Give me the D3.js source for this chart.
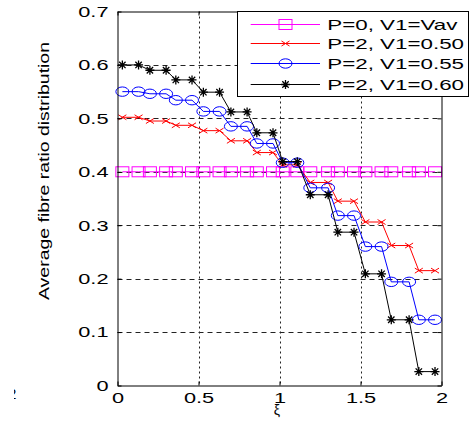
<!doctype html>
<html>
<head>
<meta charset="utf-8">
<script src="https://d3js.org/d3.v7.min.js"></script>
<style>
    body { margin: 0; background: #fff; }
    text { font-family: "Liberation Sans", Arial, sans-serif; fill: #000; }
</style>
</head>
<body>
<svg width="469" height="429" id="chart"></svg>
<script>
    // sample positions along xi (same for every curve)
    var xVals = [0.03, 0.13, 0.2, 0.3, 0.36, 0.46, 0.53, 0.63, 0.7, 0.8, 0.86, 0.96,
                 1.02, 1.11, 1.19, 1.3, 1.36, 1.46, 1.53, 1.63, 1.69, 1.8, 1.86, 1.96];

    // curves
    var magentaY = [0.4, 0.4, 0.4, 0.4, 0.4, 0.4, 0.4, 0.4, 0.4, 0.4, 0.4, 0.4,
                    0.4, 0.4, 0.4, 0.4, 0.4, 0.4, 0.4, 0.4, 0.4, 0.4, 0.4, 0.4];
    var redY = [0.502, 0.502, 0.495, 0.495, 0.487, 0.487, 0.477, 0.477, 0.458, 0.458, 0.436, 0.436,
                0.413, 0.413, 0.38, 0.38, 0.345, 0.345, 0.306, 0.306, 0.262, 0.262, 0.215, 0.215];
    var blueY = [0.55, 0.55, 0.546, 0.546, 0.534, 0.534, 0.513, 0.513, 0.485, 0.485, 0.453, 0.453,
                 0.417, 0.417, 0.37, 0.37, 0.318, 0.318, 0.26, 0.26, 0.194, 0.194, 0.123, 0.123];
    var blackY = [0.6, 0.6, 0.59, 0.59, 0.572, 0.572, 0.549, 0.549, 0.512, 0.512, 0.473, 0.473,
                  0.419, 0.419, 0.357, 0.357, 0.287, 0.287, 0.209, 0.209, 0.123, 0.123, 0.026, 0.026];

    var legendLabels = ["P=0, V1=Vav", "P=2, V1=0.50", "P=2, V1=0.55", "P=2, V1=0.60"];

    // axes
    var xTicks = [0, 0.5, 1, 1.5, 2];
    var xTickLabels = ["0", "0.5", "1", "1.5", "2"];
    var yTicks = [0, 0.1, 0.2, 0.3, 0.4, 0.5, 0.6, 0.7];
    var yTickLabels = ["0", "0.1", "0.2", "0.3", "0.4", "0.5", "0.6", "0.7"];
    var xGrid = [0.5, 1, 1.5];
    var yGrid = [0.1, 0.2, 0.3, 0.4, 0.5, 0.6];

    var svg = d3.select("#chart");
    var plotL = 117.5, plotR = 441.5, plotT = 11.5, plotB = 385.5;

    var x = d3.scaleLinear().domain([0, 2]).range([plotL, plotR]);
    var y = d3.scaleLinear().domain([0, 0.7]).range([plotB, plotT]);

    // the original figure is stretched sideways, so the text is too
    function stretch(sel, k) {
        sel.each(function() {
            var w = this.getComputedTextLength();
            d3.select(this).attr("textLength", w * k).attr("lengthAdjust", "spacingAndGlyphs");
        });
    }

    svg.append("rect").attr("width", 469).attr("height", 429).attr("fill", "#fff");

    //Grid
    svg.append("g").selectAll("line").data(xGrid).enter().append("line")
        .attr("x1", function(d) { return Math.round(x(d)) + 0.5; })
        .attr("x2", function(d) { return Math.round(x(d)) + 0.5; })
        .attr("y1", plotT).attr("y2", plotB)
        .attr("stroke", "#222").attr("stroke-dasharray", "2,3");
    svg.append("g").selectAll("line").data(yGrid).enter().append("line")
        .attr("y1", function(d) { return Math.round(y(d)) + 0.5; })
        .attr("y2", function(d) { return Math.round(y(d)) + 0.5; })
        .attr("x1", plotL).attr("x2", plotR)
        .attr("stroke", "#222").attr("stroke-dasharray", "5,4");

    //Markers
    var markers = {
        square: function(g) {
            g.append("rect").attr("x", -6.5).attr("y", -5).attr("width", 13).attr("height", 10)
             .attr("fill", "none");
        },
        cross: function(g) {
            g.append("path").attr("d", "M-4,-2.5L4,2.5M-4,2.5L4,-2.5");
        },
        circle: function(g) {
            g.append("ellipse").attr("rx", 6.5).attr("ry", 4.7).attr("fill", "none");
        },
        star: function(g) {
            g.append("path").attr("d", "M-4.5,0H4.5M0,-4.5V4.5M-3.2,-3.2L3.2,3.2M-3.2,3.2L3.2,-3.2")
             .attr("stroke-width", 1.3);
        }
    };

    var series = [
        { vals: magentaY, color: "#ff00ff", mark: "square" },
        { vals: redY, color: "#ff0000", mark: "cross" },
        { vals: blueY, color: "#0000ff", mark: "circle" },
        { vals: blackY, color: "#000000", mark: "star" }
    ];

    var line = d3.line()
        .x(function(d) { return x(d[0]); })
        .y(function(d) { return y(d[1]); });

    series.forEach(function(s) {
        var pts = xVals.map(function(v, i) { return [v, s.vals[i]]; });
        var g = svg.append("g").attr("stroke", s.color).attr("fill", "none");
        g.append("path").attr("d", line(pts)).attr("stroke-width", 1);
        pts.forEach(function(p) {
            var m = g.append("g").attr("transform", "translate(" + x(p[0]) + "," + y(p[1]) + ")");
            markers[s.mark](m);
        });
    });

    //Axes
    var xAxis = svg.append("g").attr("transform", "translate(0," + plotB + ")")
        .call(d3.axisBottom(x).tickValues(xTicks).tickSize(-4).tickSizeOuter(0).tickPadding(7)
              .tickFormat(function(d, i) { return xTickLabels[i]; }));
    var yAxis = svg.append("g").attr("transform", "translate(" + plotL + ",0)")
        .call(d3.axisLeft(y).tickValues(yTicks).tickSize(-4).tickSizeOuter(0).tickPadding(9)
              .tickFormat(function(d, i) { return yTickLabels[i]; }));
    svg.append("g").attr("transform", "translate(0," + plotT + ")")
        .call(d3.axisTop(x).tickValues(xTicks).tickSize(-4).tickSizeOuter(0).tickFormat(""));
    svg.append("g").attr("transform", "translate(" + plotR + ",0)")
        .call(d3.axisRight(y).tickValues(yTicks).tickSize(-4).tickSizeOuter(0).tickFormat(""));
    svg.selectAll(".domain, .tick line").attr("stroke", "#000");
    svg.selectAll(".tick text").attr("font-size", "15px").attr("font-family", "Liberation Sans, Arial, sans-serif");
    stretch(xAxis.selectAll(".tick text"), 1.45);
    stretch(yAxis.selectAll(".tick text"), 1.45);

    //Axis labels
    svg.append("text")
        .attr("transform", "translate(49,171) rotate(-90)")
        .attr("text-anchor", "middle")
        .attr("font-size", "15px")
        .attr("textLength", 258).attr("lengthAdjust", "spacingAndGlyphs")
        .text("Average fibre ratio distribution");
    svg.append("text")
        .attr("x", 277).attr("y", 414.5)
        .attr("text-anchor", "middle")
        .attr("font-size", "14px")
        .text("\u03BE");

    // clipped stray glyph at the lower left
    svg.append("clipPath").attr("id", "cut").append("rect")
        .attr("x", 14).attr("y", 385).attr("width", 10).attr("height", 20);
    svg.append("text").attr("x", 8).attr("y", 399).attr("font-size", "15px")
        .attr("clip-path", "url(#cut)").text("2");

    //Legend
    var lg = svg.append("g");
    lg.append("rect").attr("x", 237.5).attr("y", 11.5).attr("width", 231).attr("height", 85)
        .attr("fill", "#fff").attr("stroke", "#000");
    var rowY = [24.5, 43.5, 63.5, 84.5];
    series.forEach(function(s, i) {
        var g = lg.append("g").attr("stroke", s.color).attr("fill", "none");
        g.append("line").attr("x1", 250.7).attr("x2", 320).attr("y1", rowY[i]).attr("y2", rowY[i]);
        var m = g.append("g").attr("transform", "translate(285.5," + rowY[i] + ")");
        markers[s.mark](m);
        lg.append("text").attr("x", 327.3).attr("y", rowY[i] + 5.5)
            .attr("font-size", "15px").text(legendLabels[i]);
    });
    stretch(lg.selectAll("text"), 1.49);
</script>
</body>
</html>
